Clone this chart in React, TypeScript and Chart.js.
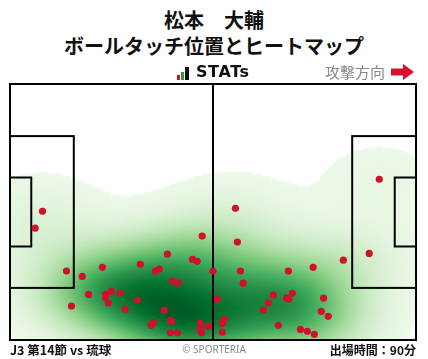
import React, { useEffect, useRef } from "react";
import { Chart, registerables } from "chart.js";

Chart.register(...registerables);

// Touch positions (pitch metres: x 0-105 towards attack, y 0-68 from bottom touchline)
const touchX = [
  8.4, 6.5, 14.6, 18.7, 23.9, 20.3, 24.7, 24.7, 26.2, 25.4, 15.9,
  49.7, 40.7, 47.2, 48.4, 33.7, 37.6, 38.6, 52.5, 42.0, 43.5, 28.5,
  32.9, 29.8, 39.9, 37.1, 36.5, 41.5, 41.8, 49.2, 51.3, 49.2, 49.5,
  41.5, 43.3, 58.3, 58.8, 59.6, 72.0, 60.3, 53.6, 68.1, 66.8, 65.5,
  71.5, 72.1, 73.0, 55.4, 54.9, 54.9, 69.4, 75.1, 76.9, 95.5, 92.9,
  86.2, 78.4, 81.1, 80.5, 82.3, 78.7,
];
const touchY = [
  34.2, 29.7, 18.3, 16.9, 19.3, 12.1, 12.1, 11.3, 12.9, 9.8, 9.0,
  27.6, 22.8, 21.4, 20.9, 20.1, 18.3, 18.8, 18.3, 15.6, 15.1, 12.4,
  10.6, 8.2, 7.9, 4.7, 3.9, 5.2, 4.9, 4.4, 3.6, 2.8, 1.9,
  1.9, 1.9, 35.0, 26.0, 18.3, 18.3, 15.1, 10.8, 11.9, 9.8, 7.9,
  11.1, 10.8, 12.4, 5.5, 4.4, 2.1, 3.9, 2.8, 2.3, 42.7, 23.0,
  21.2, 19.3, 11.1, 7.6, 6.3, 1.5,
];

const PITCH_LEN = 105;
const PITCH_WID = 68;

const GREENS = [
  [247, 252, 245],
  [229, 245, 224],
  [199, 233, 192],
  [161, 217, 155],
  [116, 196, 118],
  [65, 171, 93],
  [35, 139, 69],
  [0, 109, 44],
  [0, 68, 27],
];

function greens(t: number) {
  const v = Math.max(0, Math.min(1, t)) * (GREENS.length - 1);
  const i = Math.min(GREENS.length - 2, Math.floor(v));
  const f = v - i;
  const a = GREENS[i], b = GREENS[i + 1];
  return [a[0] + (b[0] - a[0]) * f, a[1] + (b[1] - a[1]) * f, a[2] + (b[2] - a[2]) * f];
}

const heatmapPlugin = {
  id: "heatmap",
  beforeDatasetsDraw(chart: any) {
    const { ctx, chartArea: a, scales } = chart;
    const xs = scales.x, ys = scales.y;
    const step = 2;
    const w = Math.ceil((a.right - a.left) / step);
    const h = Math.ceil((a.bottom - a.top) / step);
    const sx = 11, sy = 7.2;
    const dens = new Float32Array(w * h);
    let max = 0;
    for (let j = 0; j < h; j++) {
      const dy = ys.getValueForPixel(a.top + (j + 0.5) * step);
      for (let i = 0; i < w; i++) {
        const dx = xs.getValueForPixel(a.left + (i + 0.5) * step);
        let s = 0;
        for (let k = 0; k < touchX.length; k++) {
          const ex = (dx - touchX[k]) / sx;
          const ey = (dy - touchY[k]) / sy;
          s += Math.exp(-0.5 * (ex * ex + ey * ey));
        }
        dens[j * w + i] = s;
        if (s > max) max = s;
      }
    }
    const off = document.createElement("canvas");
    off.width = w;
    off.height = h;
    const octx = off.getContext("2d")!;
    const img = octx.createImageData(w, h);
    const thresh = 0.03;
    for (let p = 0; p < w * h; p++) {
      const t = dens[p] / max;
      if (t < thresh) continue;
      const c = greens(0.05 + 0.88 * Math.pow(t, 1.05));
      img.data[p * 4] = c[0];
      img.data[p * 4 + 1] = c[1];
      img.data[p * 4 + 2] = c[2];
      img.data[p * 4 + 3] = 255;
    }
    octx.putImageData(img, 0, 0);
    ctx.save();
    ctx.imageSmoothingEnabled = true;
    ctx.drawImage(off, a.left, a.top, a.right - a.left, a.bottom - a.top);

    // pitch markings
    const X = (v: number) => xs.getPixelForValue(v);
    const Y = (v: number) => ys.getPixelForValue(v);
    ctx.strokeStyle = "#000";
    ctx.lineWidth = 2;
    const rect = (x0: number, y0: number, x1: number, y1: number) => {
      ctx.strokeRect(X(x0), Y(y1), X(x1) - X(x0), Y(y0) - Y(y1));
    };
    rect(0, 0, PITCH_LEN, PITCH_WID);
    ctx.beginPath();
    ctx.moveTo(X(PITCH_LEN / 2), Y(0));
    ctx.lineTo(X(PITCH_LEN / 2), Y(PITCH_WID));
    ctx.stroke();
    const mid = PITCH_WID / 2;
    rect(0, mid - 20.16, 16.5, mid + 20.16);
    rect(0, mid - 9.16, 5.5, mid + 9.16);
    rect(PITCH_LEN - 16.5, mid - 20.16, PITCH_LEN, mid + 20.16);
    rect(PITCH_LEN - 5.5, mid - 9.16, PITCH_LEN, mid + 9.16);
    ctx.restore();
  },
};

export default function App() {
  const ref = useRef<HTMLCanvasElement>(null);
  useEffect(() => {
    document.body.style.margin = "0";
    const chart = new Chart(ref.current!, {
      type: "scatter",
      data: {
        datasets: [
          {
            data: touchX.map((x, i) => ({ x, y: touchY[i] })),
            backgroundColor: "#d0112b",
            borderWidth: 0,
            pointRadius: 3.6,
          },
        ],
      },
      options: {
        animation: false,
        responsive: false,
        layout: { padding: { left: 10, right: 12, top: 10, bottom: 10 } },
        plugins: { legend: { display: false }, tooltip: { enabled: false } },
        scales: {
          x: { type: "linear", min: 0, max: PITCH_LEN, display: false },
          y: { type: "linear", min: 0, max: PITCH_WID, display: false },
        },
      },
      plugins: [heatmapPlugin],
    });
    return () => chart.destroy();
  }, []);

  const jp = '"Noto Sans CJK JP", "Noto Sans", sans-serif';
  return (
    <div style={{ position: "relative", width: 428, height: 359, background: "#fff", fontFamily: jp, overflow: "hidden" }}>
      <canvas ref={ref} width={428} height={276} style={{ position: "absolute", left: 0, top: 74 }} />
      <div style={{ position: "absolute", left: 0, width: 428, top: 7, textAlign: "center", fontWeight: 700, fontSize: 20, lineHeight: "25.5px", color: "#111" }}>
        <div>松本　大輔</div>
        <div>ボールタッチ位置とヒートマップ</div>
      </div>
      <div style={{ position: "absolute", left: 177, top: 67, width: 13, height: 13 }}>
        <div style={{ position: "absolute", left: 0, bottom: 0, width: 3, height: 5, background: "#d0112b" }} />
        <div style={{ position: "absolute", left: 4, bottom: 0, width: 3, height: 8, background: "#2a9d3a" }} />
        <div style={{ position: "absolute", left: 8, bottom: 0, width: 4, height: 13, background: "#111" }} />
      </div>
      <div style={{ position: "absolute", left: 196, top: 62, fontFamily: '"DejaVu Sans", sans-serif', fontWeight: 700, fontSize: 16, color: "#111", letterSpacing: 0.6 }}>
        STATs
      </div>
      <div style={{ position: "absolute", left: 325, top: 61, fontSize: 15, color: "#888" }}>攻撃方向</div>
      <svg style={{ position: "absolute", left: 390, top: 63 }} width={26} height={18} viewBox="0 0 26 18">
        <polygon points="1,5.5 13,5.5 13,1 24,9 13,17 13,12.5 1,12.5" fill="#d7102e" />
      </svg>
      <div style={{ position: "absolute", left: 10, top: 340, fontSize: 12.5, fontWeight: 700, color: "#111" }}>J3 第14節 vs 琉球</div>
      <div style={{ position: "absolute", left: 0, width: 428, top: 342, textAlign: "center", fontSize: 10, color: "#888", fontFamily: '"Noto Sans", sans-serif' }}>© SPORTERIA</div>
      <div style={{ position: "absolute", right: 12, top: 340.5, fontSize: 12, fontWeight: 700, color: "#111" }}>出場時間：90分</div>
    </div>
  );
}
